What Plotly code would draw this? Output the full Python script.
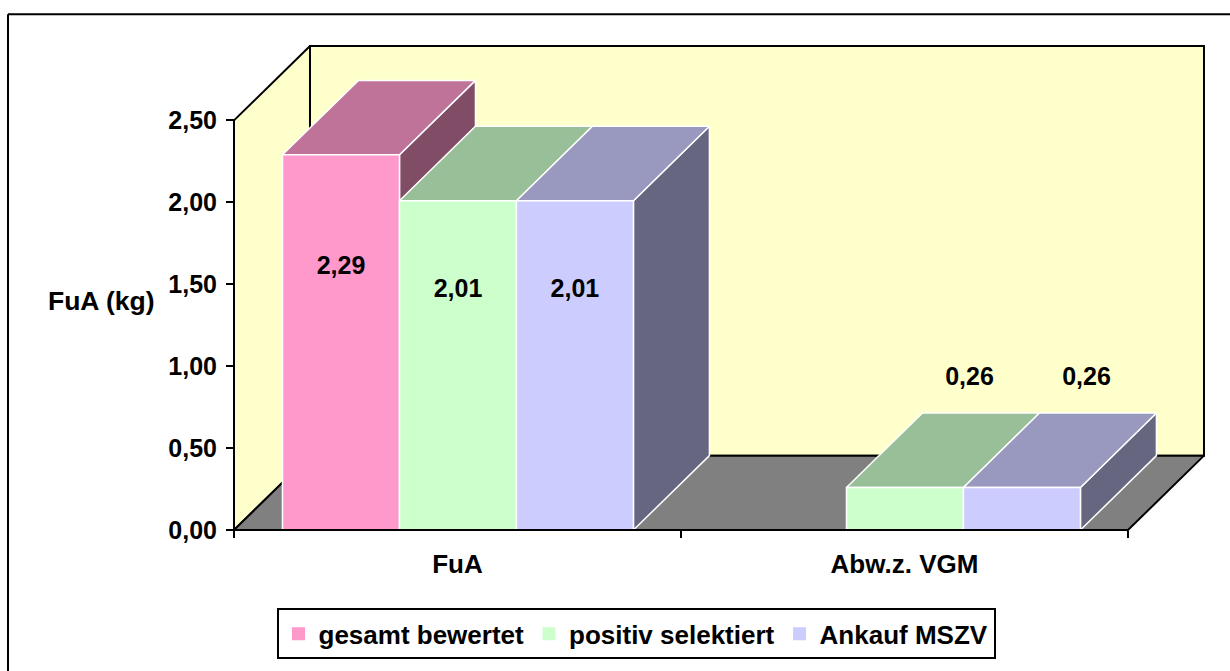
import plotly.graph_objects as go

# ---------------- data ----------------
categories = ["FuA", "Abw.z. VGM"]
series_names = ["gesamt bewertet", "positiv selektiert", "Ankauf MSZV"]
gesamt_bewertet = [2.29, None]
positiv_selektiert = [2.01, 0.26]
ankauf_mszv = [2.01, 0.26]
y_tick_vals = [0.0, 0.5, 1.0, 1.5, 2.0, 2.5]
y_axis_title = "FuA (kg)"

series_values = [gesamt_bewertet, positiv_selektiert, ankauf_mszv]
front_colors = ["#FF99CC", "#CCFFCC", "#CCCCFF"]

# ---------------- geometry / style ----------------
W, H = 1230, 671
L, R, T, B = 225, 1213, 43, 539          # plot area in page pixels
X_RANGE = [-0.52013, -0.52013 + (R - L) / 447.0]
Y_RANGE = [-5 / 165.2, -5 / 165.2 + (B - T) / 165.2]
DX, DY = 0.170, 0.454                    # 3D depth offset (data units)
BAR_W = 0.2617
GROUP_LEFT = -0.3915
Y_MAX = 2.5
FONT = "Liberation Sans, Arial, sans-serif"
FS = 25


def shade(hex_color, f):
    h = hex_color.lstrip("#")
    r, g, b = (int(h[i:i + 2], 16) for i in (0, 2, 4))
    return "rgb({},{},{})".format(round(r * f), round(g * f), round(b * f))


def px_x(p):
    return (p - L) / (R - L)


def px_y(p):
    return (B - p) / (B - T)


def poly(xs, ys, fill, line_color, line_w):
    return go.Scatter(
        x=xs + [xs[0]], y=ys + [ys[0]], mode="lines", fill="toself",
        fillcolor=fill, line=dict(color=line_color, width=line_w),
        showlegend=False, hoverinfo="skip",
    )


fig = go.Figure()

x_left = -0.5
x_right = -0.5 + len(categories)

# back wall
fig.add_trace(poly([x_left + DX, x_right + DX, x_right + DX, x_left + DX],
                   [DY, DY, Y_MAX + DY, Y_MAX + DY], "#FFFFCC", "black", 2))
# left wall
fig.add_trace(poly([x_left, x_left, x_left + DX, x_left + DX],
                   [0, Y_MAX, Y_MAX + DY, DY], "#FFFFCC", "black", 2))
# floor
fig.add_trace(poly([x_left, x_right, x_right + DX, x_left + DX],
                   [0, 0, DY, DY], "#808080", "black", 2))

# bars
label_x, label_y, label_t = [], [], []
for c in range(len(categories)):
    for i, vals in enumerate(series_values):
        v = vals[c]
        if v is None:
            continue
        x0 = c + GROUP_LEFT + i * BAR_W
        x1 = x0 + BAR_W
        col = front_colors[i]
        # side face
        fig.add_trace(poly([x1, x1 + DX, x1 + DX, x1], [0, DY, v + DY, v],
                           shade(col, 0.5), "white", 1.5))
        # top face
        fig.add_trace(poly([x0, x1, x1 + DX, x0 + DX], [v, v, v + DY, v + DY],
                           shade(col, 0.75), "white", 1.5))
        # front face
        fig.add_trace(poly([x0, x1, x1, x0], [0, 0, v, v], col, "white", 1.5))
        xc = (x0 + x1) / 2
        if v > 1:
            label_x.append(xc)
            label_y.append(v / 2 + DY)
        else:
            label_x.append(xc + 0.85 * DX)
            label_y.append(v + DY + 0.21)
        label_t.append("{:.2f}".format(v).replace(".", ","))

# front axis lines
fig.add_trace(go.Scatter(x=[x_left, x_right], y=[0, 0], mode="lines",
                         line=dict(color="black", width=2),
                         showlegend=False, hoverinfo="skip"))
fig.add_trace(go.Scatter(x=[x_left, x_left], y=[0, Y_MAX], mode="lines",
                         line=dict(color="black", width=2),
                         showlegend=False, hoverinfo="skip"))

# data labels
fig.add_trace(go.Scatter(x=label_x, y=label_y, text=label_t, mode="text",
                         textfont=dict(family=FONT, size=FS, color="black",
                                       weight="bold"),
                         showlegend=False, hoverinfo="skip", cliponaxis=False))

# legend entries
for name, col in zip(series_names, front_colors):
    fig.add_trace(go.Scatter(x=[None], y=[None], mode="markers", name=name,
                             marker=dict(symbol="square", size=13, color=col)))

fig.update_layout(
    template="none",
    width=W, height=H,
    margin=dict(l=L, r=W - R, t=T, b=H - B, pad=0),
    paper_bgcolor="white", plot_bgcolor="white",
    separators=",.",
    hovermode=False,
    font=dict(family=FONT, size=FS, color="black", weight="bold"),
    xaxis=dict(
        range=X_RANGE, showgrid=False, zeroline=False, showline=False,
        automargin=False, fixedrange=True,
        tickvals=list(range(len(categories))), ticktext=categories,
        ticks="", anchor="free", position=px_y(534),
        ticklabelstandoff=16,
        tickfont=dict(family=FONT, size=26, color="black", weight="bold"),
        minor=dict(tickvals=[x_left + k for k in range(len(categories) + 1)],
                   ticks="outside", ticklen=7, tickwidth=2, tickcolor="black"),
    ),
    yaxis=dict(
        range=Y_RANGE, showgrid=False, zeroline=False, showline=False,
        automargin=False, fixedrange=True,
        tickvals=y_tick_vals, tickformat=".2f",
        ticks="outside", ticklen=8, tickwidth=2, tickcolor="black",
        anchor="free", position=px_x(234), ticklabelstandoff=4,
        tickfont=dict(family=FONT, size=FS, color="black", weight="bold"),
    ),
    legend=dict(
        orientation="h", x=px_x(636), xanchor="center",
        y=px_y(613), yanchor="top",
        bordercolor="black", borderwidth=2, bgcolor="white",
        font=dict(family=FONT, size=26, color="black", weight="bold"),
        traceorder="normal",
    ),
    annotations=[dict(
        text=y_axis_title, xref="paper", yref="paper",
        x=px_x(101), y=px_y(303), xanchor="center", yanchor="middle",
        showarrow=False,
        font=dict(family=FONT, size=26.5, color="black", weight="bold"),
    )],
    shapes=[
        dict(type="line", xref="paper", yref="paper",
             x0=px_x(8), y0=px_y(14), x1=px_x(1240), y1=px_y(14),
             line=dict(color="black", width=2)),
        dict(type="line", xref="paper", yref="paper",
             x0=px_x(8), y0=px_y(14), x1=px_x(8), y1=px_y(700),
             line=dict(color="black", width=2)),
    ],
)

fig.write_html(
    "out.html",
    config={"displayModeBar": False},
    post_script="document.body.style.margin='0';"
                "document.documentElement.style.overflow='hidden';",
)
